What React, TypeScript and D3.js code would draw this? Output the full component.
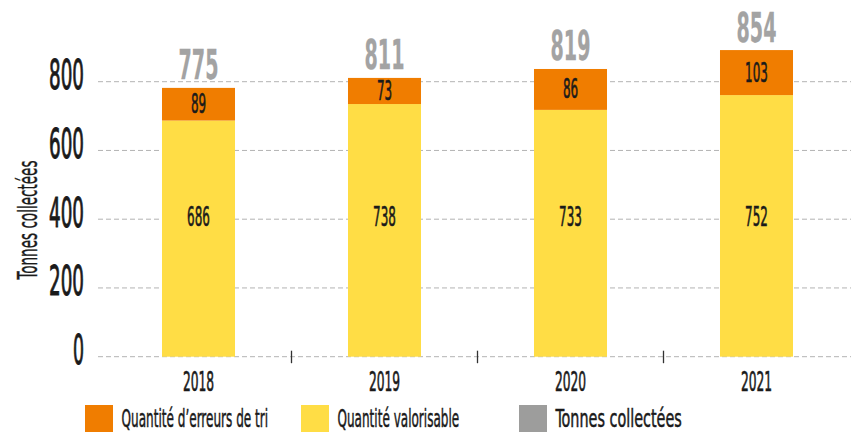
import React, { useEffect, useRef } from 'react';
import * as d3 from 'd3';

// categories
const years = ['2018', '2019', '2020', '2021'];

// segment heights as drawn in the picture (tonnes)
const valorisable = [687, 735, 718, 761];
const erreurs = [95, 76, 119, 131];

// printed labels
const valorisableLabels = ['686', '738', '733', '752'];
const erreursLabels = ['89', '73', '86', '103'];
const totalLabels = ['775', '811', '819', '854'];

const yTicks = [0, 200, 400, 600, 800];

const legendNames = ["Quantité d\u2019erreurs de tri", 'Quantité valorisable', 'Tonnes collectées'];
const legendColors = ['#F07D00', '#FFDD45', '#9D9D9C'];

const FONT = "'DejaVu Sans Condensed', 'Liberation Sans Narrow', 'Roboto', sans-serif";

const App = () => {
    const ref = useRef<SVGSVGElement>(null);
    const svgWidth = 851;
    const svgHeight = 432;

    useEffect(() => {
        const svg = d3.select(ref.current);
        svg.selectAll('*').remove();

        const y = d3.scaleLinear().domain([0, 800]).range([356.7, 81.7]);
        const x = d3.scaleBand()
            .domain(years)
            .range([105.5, 849.5])
            .paddingInner(0.6075)
            .paddingOuter(0.30375);
        const bw = x.bandwidth();

        // condensed text helper: width set per character, a thin stroke adds weight
        const label = (g, txt, px, py, size, charW, opts: any = {}) => {
            const fill = opts.fill || '#1a1a1a';
            const t = g.append('text')
                .attr('x', px)
                .attr('y', py)
                .attr('font-family', FONT)
                .attr('font-size', size)
                .attr('font-weight', opts.weight || 'normal')
                .attr('fill', fill)
                .attr('stroke', fill)
                .attr('stroke-width', opts.stroke ?? 0.6)
                .attr('text-anchor', opts.anchor || 'middle')
                .attr('textLength', opts.length || txt.length * charW)
                .attr('lengthAdjust', 'spacingAndGlyphs')
                .text(txt);
            if (opts.transform) t.attr('transform', opts.transform);
            return t;
        };

        // grid
        svg.append('g')
            .selectAll('line')
            .data(yTicks)
            .join('line')
            .attr('x1', 98)
            .attr('x2', svgWidth)
            .attr('y1', d => y(d))
            .attr('y2', d => y(d))
            .attr('stroke', '#b3b3b3')
            .attr('stroke-width', 1)
            .attr('stroke-dasharray', '5,3');

        // y tick labels
        const yAxis = svg.append('g');
        yTicks.forEach(t => {
            label(yAxis, String(t), 84, y(t) + 7.5, 40, 12, { anchor: 'end', length: String(t).length * 12 - 1, stroke: 1 });
        });

        // y title
        label(svg, 'Tonnes collectées', 0, 0, 26, 7, {
            length: 119,
            stroke: 0.4,
            transform: `translate(36.5,220) rotate(-90)`
        });

        // stacked bars
        const rows = years.map((yr, i) => ({ year: yr, valorisable: valorisable[i], erreurs: erreurs[i] }));
        const stack = d3.stack().keys(['valorisable', 'erreurs'])(rows as any);
        const colors = { valorisable: '#FFDD45', erreurs: '#F07D00' };

        stack.forEach(layer => {
            svg.append('g')
                .attr('fill', colors[layer.key])
                .selectAll('rect')
                .data(layer)
                .join('rect')
                .attr('x', d => x(d.data.year as any))
                .attr('y', d => y(d[1]))
                .attr('width', bw)
                .attr('height', d => y(d[0]) - y(d[1]));
        });

        // x ticks between categories
        const ticks = svg.append('g');
        years.slice(0, -1).forEach((yr, i) => {
            const tx = (x(yr) + bw + x(years[i + 1])) / 2;
            ticks.append('line')
                .attr('x1', tx).attr('x2', tx)
                .attr('y1', y(0) - 6).attr('y2', y(0) + 6.5)
                .attr('stroke', '#333')
                .attr('stroke-width', 1.3);
        });

        // labels
        const labels = svg.append('g');
        years.forEach((yr, i) => {
            const cx = x(yr) + bw / 2;
            const top = valorisable[i] + erreurs[i];
            // x axis
            label(labels, yr, cx, 390.7, 26, 7.8);
            // valorisable value
            label(labels, valorisableLabels[i], cx, y(380), 27, 7.6);
            // erreurs value
            const mid = (y(valorisable[i]) + y(top)) / 2;
            label(labels, erreursLabels[i], cx, mid + 9, 26, 7.6);
            // total
            label(labels, totalLabels[i], cx, y(top) - 8.5, 40, 13.3, { fill: '#A3A3A3', weight: 'bold', stroke: 0.3 });
        });

        // legend
        const legendX = [85, 301, 519];
        const legendW = [146.6, 121.7, 126.3];
        const legend = svg.append('g');
        legendNames.forEach((name, i) => {
            legend.append('rect')
                .attr('x', legendX[i])
                .attr('y', 405)
                .attr('width', 28)
                .attr('height', 27)
                .attr('fill', legendColors[i]);
            label(legend, name, legendX[i] + 36.5, 427, 24, 6, { anchor: 'start', length: legendW[i], stroke: 0.5 });
        });
    }, []);

    return (
        <div style={{ position: 'absolute', left: 0, top: 0 }}>
            <svg ref={ref} width={svgWidth} height={svgHeight} style={{ display: 'block' }}></svg>
        </div>
    );
};

export default App;
